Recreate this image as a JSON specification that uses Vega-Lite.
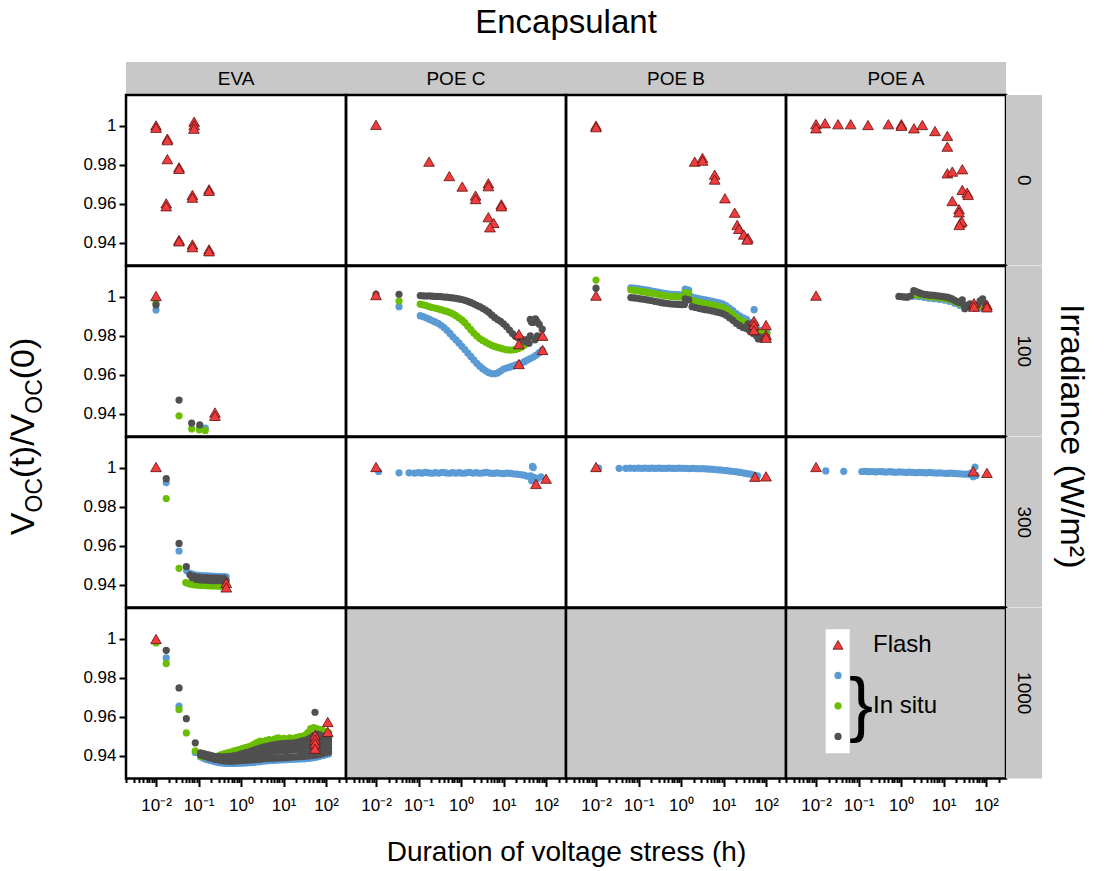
{
  "$schema": "https://vega.github.io/schema/vega-lite/v6.json",
  "background": "white",
  "autosize": {"type": "pad"},
  "padding": {"left": 5, "top": 6, "right": 5, "bottom": 5},
  "columns": 5,
  "spacing": 0,
  "bounds": "flush",
  "resolve": {"scale": {"x": "independent", "y": "independent", "color": "independent"}},
  "config": {
    "view": {"stroke": "black", "strokeWidth": 2.5},
    "font": "Liberation Sans",
    "text": {"font": "Liberation Sans", "color": "black"},
    "axis": {"domain": false, "grid": false, "tickColor": "black", "labelColor": "black", "labelFont": "Liberation Sans", "labelFontSize": 17, "titleFont": "Liberation Sans", "titleColor": "black", "titleFontWeight": "normal"}
  },
  "datasets": {
    "eva0": [
      {"s":"F","t":0.01,"v":1.0003},{"s":"F","t":0.01,"v":0.9991},{"s":"F","t":0.0185,"v":0.9935},{"s":"F","t":0.0185,"v":0.9927},{"s":"F","t":0.0185,"v":0.983},{"s":"F","t":0.0348,"v":0.9788},{"s":"F","t":0.0348,"v":0.978},{"s":"F","t":0.079,"v":1.0022},{"s":"F","t":0.079,"v":1.0004},{"s":"F","t":0.078,"v":0.9986},{"s":"F","t":0.177,"v":0.9675},{"s":"F","t":0.177,"v":0.9667},{"s":"F","t":0.072,"v":0.9646},{"s":"F","t":0.072,"v":0.9632},{"s":"F","t":0.0174,"v":0.9603},{"s":"F","t":0.0174,"v":0.9588},{"s":"F","t":0.0348,"v":0.9415},{"s":"F","t":0.0348,"v":0.9408},{"s":"F","t":0.072,"v":0.9392},{"s":"F","t":0.072,"v":0.9378},{"s":"F","t":0.177,"v":0.9367},{"s":"F","t":0.177,"v":0.9357}
    ],
    "pc0": [
      {"s":"F","t":0.01,"v":1.0006},{"s":"F","t":0.177,"v":0.9817},{"s":"F","t":0.53,"v":0.9743},{"s":"F","t":1.07,"v":0.9689},{"s":"F","t":2.2,"v":0.9643},{"s":"F","t":2.2,"v":0.9625},{"s":"F","t":4.4,"v":0.9706},{"s":"F","t":4.4,"v":0.9691},{"s":"F","t":8.9,"v":0.9598},{"s":"F","t":8.9,"v":0.9588},{"s":"F","t":4.4,"v":0.9532},{"s":"F","t":5.9,"v":0.9502},{"s":"F","t":4.8,"v":0.948}
    ],
    "pb0": [
      {"s":"F","t":0.01,"v":1.0002},{"s":"F","t":0.01,"v":0.9994},{"s":"F","t":2.1,"v":0.9817},{"s":"F","t":3.2,"v":0.9836},{"s":"F","t":3.2,"v":0.9822},{"s":"F","t":6.2,"v":0.975},{"s":"F","t":6.2,"v":0.9725},{"s":"F","t":10.8,"v":0.9629},{"s":"F","t":18.3,"v":0.9555},{"s":"F","t":21,"v":0.9492},{"s":"F","t":23,"v":0.9472},{"s":"F","t":30,"v":0.9443},{"s":"F","t":37.5,"v":0.9425},{"s":"F","t":36,"v":0.9417}
    ],
    "pa0": [
      {"s":"F","t":0.01,"v":1.0009},{"s":"F","t":0.01,"v":0.9988},{"s":"F","t":0.0163,"v":1.0014},{"s":"F","t":0.033,"v":1.0009},{"s":"F","t":0.0655,"v":1.0009},{"s":"F","t":0.1675,"v":1.0005},{"s":"F","t":0.504,"v":1.0009},{"s":"F","t":1.02,"v":1.0009},{"s":"F","t":1.02,"v":1.0001},{"s":"F","t":2.02,"v":0.9988},{"s":"F","t":3.17,"v":1.0005},{"s":"F","t":6.3,"v":0.9974},{"s":"F","t":12.3,"v":0.9949},{"s":"F","t":12.3,"v":0.9894},{"s":"F","t":12.3,"v":0.9757},{"s":"F","t":16.1,"v":0.9766},{"s":"F","t":27.7,"v":0.9778},{"s":"F","t":27.7,"v":0.9672},{"s":"F","t":36.1,"v":0.9658},{"s":"F","t":37.9,"v":0.9646},{"s":"F","t":16.1,"v":0.9615},{"s":"F","t":23.2,"v":0.9573},{"s":"F","t":23.2,"v":0.9557},{"s":"F","t":25,"v":0.9504},{"s":"F","t":27,"v":0.951},{"s":"F","t":23.5,"v":0.9492}
    ],
    "eva100": [
      {"s":"1","t":0.01,"v":0.9933},{"s":"1","t":0.144,"v":0.9327},{"s":"1","t":0.107,"v":0.9331},
      {"s":"2","t":0.01,"v":0.997},{"s":"2","t":0.0348,"v":0.939},{"s":"2","t":0.069,"v":0.9323},{"s":"2","t":0.104,"v":0.9318},{"s":"2","t":0.144,"v":0.9315},
      {"s":"3","t":0.01,"v":0.9959},{"s":"3","t":0.0348,"v":0.9471},{"s":"3","t":0.069,"v":0.9353},{"s":"3","t":0.107,"v":0.9344},
      {"s":"F","t":0.01,"v":1.0005},{"s":"F","t":0.244,"v":0.9407},{"s":"F","t":0.244,"v":0.939}
    ],
    "pc100": [
      {"s":"1","t":0.0348,"v":0.995},
      {"s":"1","t":0.11,"v":0.9904},{"s":"1","t":0.129,"v":0.9899},{"s":"1","t":0.151,"v":0.9893},{"s":"1","t":0.178,"v":0.9886},{"s":"1","t":0.209,"v":0.9879},{"s":"1","t":0.245,"v":0.9872},{"s":"1","t":0.288,"v":0.9865},{"s":"1","t":0.339,"v":0.9855},{"s":"1","t":0.398,"v":0.9843},{"s":"1","t":0.468,"v":0.9829},{"s":"1","t":0.55,"v":0.9813},{"s":"1","t":0.646,"v":0.9796},{"s":"1","t":0.759,"v":0.978},{"s":"1","t":0.891,"v":0.9764},{"s":"1","t":1.047,"v":0.9747},{"s":"1","t":1.23,"v":0.973},{"s":"1","t":1.445,"v":0.9712},{"s":"1","t":1.698,"v":0.9695},{"s":"1","t":1.995,"v":0.9677},{"s":"1","t":2.344,"v":0.966},{"s":"1","t":2.754,"v":0.9645},{"s":"1","t":3.236,"v":0.9632},{"s":"1","t":3.802,"v":0.9621},{"s":"1","t":4.467,"v":0.9612},{"s":"1","t":5.248,"v":0.9607},{"s":"1","t":6.166,"v":0.9606},{"s":"1","t":7.244,"v":0.961},{"s":"1","t":8.511,"v":0.962},{"s":"1","t":10,"v":0.963},{"s":"1","t":11.75,"v":0.9635},{"s":"1","t":13.8,"v":0.964},{"s":"1","t":16.22,"v":0.9645},{"s":"1","t":19.05,"v":0.965},{"s":"1","t":22.39,"v":0.9655},{"s":"1","t":26.3,"v":0.966},{"s":"1","t":30.9,"v":0.9668},{"s":"1","t":36.31,"v":0.9676},{"s":"1","t":42.66,"v":0.9684},{"s":"1","t":50.12,"v":0.9692},{"s":"1","t":58.88,"v":0.9702},{"s":"1","t":69.18,"v":0.9714},{"s":"1","t":81.28,"v":0.9728},
      {"s":"2","t":0.0348,"v":0.9979},
      {"s":"2","t":0.11,"v":0.9963},{"s":"2","t":0.129,"v":0.996},{"s":"2","t":0.151,"v":0.9956},{"s":"2","t":0.178,"v":0.9951},{"s":"2","t":0.209,"v":0.9946},{"s":"2","t":0.245,"v":0.9943},{"s":"2","t":0.288,"v":0.9939},{"s":"2","t":0.339,"v":0.9935},{"s":"2","t":0.398,"v":0.993},{"s":"2","t":0.468,"v":0.9926},{"s":"2","t":0.55,"v":0.992},{"s":"2","t":0.646,"v":0.9913},{"s":"2","t":0.759,"v":0.9904},{"s":"2","t":0.891,"v":0.9893},{"s":"2","t":1.047,"v":0.9882},{"s":"2","t":1.23,"v":0.9868},{"s":"2","t":1.445,"v":0.985},{"s":"2","t":1.698,"v":0.9832},{"s":"2","t":1.995,"v":0.9815},{"s":"2","t":2.344,"v":0.98},{"s":"2","t":2.754,"v":0.9787},{"s":"2","t":3.236,"v":0.9777},{"s":"2","t":3.802,"v":0.9768},{"s":"2","t":4.467,"v":0.976},{"s":"2","t":5.248,"v":0.9752},{"s":"2","t":6.166,"v":0.9746},{"s":"2","t":7.244,"v":0.9741},{"s":"2","t":8.511,"v":0.9737},{"s":"2","t":10,"v":0.9733},{"s":"2","t":11.75,"v":0.9729},{"s":"2","t":13.8,"v":0.9728},{"s":"2","t":16.22,"v":0.9728},{"s":"2","t":19.05,"v":0.9731},{"s":"2","t":22.39,"v":0.9736},{"s":"2","t":26.3,"v":0.9743},{"s":"2","t":30.9,"v":0.9753},{"s":"2","t":36.31,"v":0.9766},
      {"s":"3","t":0.01,"v":1.0014},{"s":"3","t":0.0348,"v":1.0014},
      {"s":"3","t":0.11,"v":1.0007},{"s":"3","t":0.129,"v":1.0006},{"s":"3","t":0.151,"v":1.0005},{"s":"3","t":0.178,"v":1.0006},{"s":"3","t":0.209,"v":1.0004},{"s":"3","t":0.245,"v":1.0003},{"s":"3","t":0.288,"v":1.0003},{"s":"3","t":0.339,"v":1.0002},{"s":"3","t":0.398,"v":1.0},{"s":"3","t":0.468,"v":0.9999},{"s":"3","t":0.55,"v":0.9997},{"s":"3","t":0.646,"v":0.9995},{"s":"3","t":0.759,"v":0.9993},{"s":"3","t":0.891,"v":0.999},{"s":"3","t":1.047,"v":0.9987},{"s":"3","t":1.23,"v":0.9983},{"s":"3","t":1.445,"v":0.9978},{"s":"3","t":1.698,"v":0.9972},{"s":"3","t":1.995,"v":0.9965},{"s":"3","t":2.344,"v":0.9957},{"s":"3","t":2.754,"v":0.995},{"s":"3","t":3.236,"v":0.9942},{"s":"3","t":3.802,"v":0.9933},{"s":"3","t":4.467,"v":0.9922},{"s":"3","t":5.248,"v":0.9908},{"s":"3","t":6.166,"v":0.9895},{"s":"3","t":7.244,"v":0.9884},{"s":"3","t":8.511,"v":0.9875},{"s":"3","t":10,"v":0.9862},{"s":"3","t":11.75,"v":0.9848},{"s":"3","t":13.8,"v":0.983},{"s":"3","t":16.22,"v":0.9812},{"s":"3","t":19.05,"v":0.9798},{"s":"3","t":22.39,"v":0.979},{"s":"3","t":26.3,"v":0.9785},{"s":"3","t":30.9,"v":0.9778},{"s":"3","t":36.31,"v":0.9782},{"s":"3","t":42.66,"v":0.98},{"s":"3","t":50.12,"v":0.987},{"s":"3","t":58.88,"v":0.988},{"s":"3","t":69.18,"v":0.986},{"s":"3","t":81.28,"v":0.9835},
      {"s":"3","t":33.1,"v":0.977},{"s":"3","t":39.8,"v":0.9762},{"s":"3","t":42.66,"v":0.9885},{"s":"3","t":45.7,"v":0.987},{"s":"3","t":55,"v":0.978},{"s":"3","t":56.2,"v":0.9888},{"s":"3","t":63.1,"v":0.98},{"s":"3","t":63.1,"v":0.987},{"s":"3","t":75.9,"v":0.9795},
      {"s":"F","t":0.01,"v":1.001},{"s":"F","t":23,"v":0.9809},{"s":"F","t":23,"v":0.9758},{"s":"F","t":23,"v":0.9656},{"s":"F","t":83,"v":0.9801},{"s":"F","t":83,"v":0.9728}
    ],
    "pb100": [
      {"s":"1","t":0.0661,"v":1.0047},{"s":"1","t":0.0794,"v":1.0045},{"s":"1","t":0.0955,"v":1.0043},{"s":"1","t":0.1148,"v":1.004},{"s":"1","t":0.138,"v":1.0038},{"s":"1","t":0.166,"v":1.0035},{"s":"1","t":0.1995,"v":1.0032},{"s":"1","t":0.2399,"v":1.0028},{"s":"1","t":0.2884,"v":1.0025},{"s":"1","t":0.3467,"v":1.0021},{"s":"1","t":0.4169,"v":1.0018},{"s":"1","t":0.5012,"v":1.0016},{"s":"1","t":0.6026,"v":1.0014},{"s":"1","t":0.7244,"v":1.0013},{"s":"1","t":0.871,"v":1.0012},{"s":"1","t":1.047,"v":1.0011},{"s":"1","t":1.259,"v":1.004},{"s":"1","t":1.514,"v":1.0035},{"s":"1","t":1.82,"v":1.0},{"s":"1","t":2.188,"v":0.9996},{"s":"1","t":2.63,"v":0.9992},{"s":"1","t":3.162,"v":0.9988},{"s":"1","t":3.802,"v":0.9985},{"s":"1","t":4.571,"v":0.9982},{"s":"1","t":5.495,"v":0.9978},{"s":"1","t":6.607,"v":0.9974},{"s":"1","t":7.943,"v":0.997},{"s":"1","t":9.55,"v":0.9965},{"s":"1","t":11.48,"v":0.9956},{"s":"1","t":13.8,"v":0.9943},{"s":"1","t":16.6,"v":0.993},{"s":"1","t":19.95,"v":0.9915},{"s":"1","t":23.99,"v":0.9903},{"s":"1","t":28.84,"v":0.9893},{"s":"1","t":34.67,"v":0.9885},{"s":"1","t":41.69,"v":0.9868},{"s":"1","t":50.12,"v":0.9852},{"s":"1","t":60.26,"v":0.9835},{"s":"1","t":72.44,"v":0.9828},{"s":"1","t":87.1,"v":0.9824},{"s":"1","t":104.7,"v":0.982},{"s":"1","t":52.5,"v":0.9935},
      {"s":"2","t":0.01,"v":1.0087},
      {"s":"2","t":0.0661,"v":1.0037},{"s":"2","t":0.0794,"v":1.0034},{"s":"2","t":0.0955,"v":1.0032},{"s":"2","t":0.1148,"v":1.0029},{"s":"2","t":0.138,"v":1.0026},{"s":"2","t":0.166,"v":1.0023},{"s":"2","t":0.1995,"v":1.002},{"s":"2","t":0.2399,"v":1.0017},{"s":"2","t":0.2884,"v":1.0014},{"s":"2","t":0.3467,"v":1.001},{"s":"2","t":0.4169,"v":1.0007},{"s":"2","t":0.5012,"v":1.0005},{"s":"2","t":0.6026,"v":1.0003},{"s":"2","t":0.7244,"v":1.0002},{"s":"2","t":0.871,"v":1.0001},{"s":"2","t":1.047,"v":1.0},{"s":"2","t":1.259,"v":1.0022},{"s":"2","t":1.514,"v":1.0018},{"s":"2","t":1.82,"v":0.9982},{"s":"2","t":2.188,"v":0.9977},{"s":"2","t":2.63,"v":0.9973},{"s":"2","t":3.162,"v":0.9969},{"s":"2","t":3.802,"v":0.9966},{"s":"2","t":4.571,"v":0.9963},{"s":"2","t":5.495,"v":0.9959},{"s":"2","t":6.607,"v":0.9955},{"s":"2","t":7.943,"v":0.9951},{"s":"2","t":9.55,"v":0.9946},{"s":"2","t":11.48,"v":0.9937},{"s":"2","t":13.8,"v":0.9924},{"s":"2","t":16.6,"v":0.991},{"s":"2","t":19.95,"v":0.9895},{"s":"2","t":23.99,"v":0.9883},{"s":"2","t":28.84,"v":0.9873},{"s":"2","t":34.67,"v":0.9866},{"s":"2","t":41.69,"v":0.9852},{"s":"2","t":50.12,"v":0.9838},{"s":"2","t":60.26,"v":0.9825},{"s":"2","t":72.44,"v":0.9818},{"s":"2","t":87.1,"v":0.9814},{"s":"2","t":104.7,"v":0.981},
      {"s":"3","t":0.01,"v":1.0045},
      {"s":"3","t":0.0661,"v":0.9997},{"s":"3","t":0.0794,"v":0.9995},{"s":"3","t":0.0955,"v":0.9993},{"s":"3","t":0.1148,"v":0.999},{"s":"3","t":0.138,"v":0.9988},{"s":"3","t":0.166,"v":0.9985},{"s":"3","t":0.1995,"v":0.9982},{"s":"3","t":0.2399,"v":0.9978},{"s":"3","t":0.2884,"v":0.9975},{"s":"3","t":0.3467,"v":0.9971},{"s":"3","t":0.4169,"v":0.9968},{"s":"3","t":0.5012,"v":0.9966},{"s":"3","t":0.6026,"v":0.9964},{"s":"3","t":0.7244,"v":0.9963},{"s":"3","t":0.871,"v":0.9962},{"s":"3","t":1.047,"v":0.9961},{"s":"3","t":1.259,"v":0.999},{"s":"3","t":1.514,"v":0.9985},{"s":"3","t":1.82,"v":0.995},{"s":"3","t":2.188,"v":0.9946},{"s":"3","t":2.63,"v":0.9942},{"s":"3","t":3.162,"v":0.9938},{"s":"3","t":3.802,"v":0.9935},{"s":"3","t":4.571,"v":0.9932},{"s":"3","t":5.495,"v":0.9928},{"s":"3","t":6.607,"v":0.9924},{"s":"3","t":7.943,"v":0.992},{"s":"3","t":9.55,"v":0.9915},{"s":"3","t":11.48,"v":0.9906},{"s":"3","t":13.8,"v":0.9893},{"s":"3","t":16.6,"v":0.988},{"s":"3","t":19.95,"v":0.9865},{"s":"3","t":23.99,"v":0.9853},{"s":"3","t":28.84,"v":0.9843},{"s":"3","t":34.67,"v":0.9838},{"s":"3","t":41.69,"v":0.9825},{"s":"3","t":50.12,"v":0.9812},{"s":"3","t":60.26,"v":0.98},{"s":"3","t":72.44,"v":0.9795},{"s":"3","t":87.1,"v":0.9793},{"s":"3","t":104.7,"v":0.979},
      {"s":"3","t":1.2,"v":0.9962},{"s":"3","t":38,"v":0.9862},{"s":"3","t":45.7,"v":0.9848},{"s":"3","t":55,"v":0.983},{"s":"3","t":66,"v":0.9785},{"s":"3","t":79.4,"v":0.9783},
      {"s":"F","t":0.01,"v":1.0007},{"s":"F","t":52,"v":0.9877},{"s":"F","t":52,"v":0.9856},{"s":"F","t":52,"v":0.983},{"s":"F","t":100,"v":0.9856},{"s":"F","t":100,"v":0.9805},{"s":"F","t":100,"v":0.9791}
    ],
    "pa100": [
      {"s":"1","t":1.995,"v":1.0004},{"s":"1","t":2.63,"v":1.0002},{"s":"1","t":3.467,"v":0.9998},{"s":"1","t":4.571,"v":0.9994},{"s":"1","t":6.026,"v":0.9991},{"s":"1","t":7.943,"v":0.9988},{"s":"1","t":10.47,"v":0.9984},{"s":"1","t":13.8,"v":0.9978},{"s":"1","t":18.2,"v":0.9968},{"s":"1","t":23.99,"v":0.9957},{"s":"1","t":31.62,"v":0.995},{"s":"1","t":41.69,"v":0.9947},{"s":"1","t":54.95,"v":0.9944},{"s":"1","t":72.44,"v":0.9944},{"s":"1","t":95.5,"v":0.9942},
      {"s":"2","t":1.995,"v":1.0012},{"s":"2","t":2.63,"v":1.001},{"s":"2","t":3.467,"v":1.0006},{"s":"2","t":4.571,"v":1.0002},{"s":"2","t":6.026,"v":0.9999},{"s":"2","t":7.943,"v":0.9996},{"s":"2","t":10.47,"v":0.9992},{"s":"2","t":13.8,"v":0.9986},{"s":"2","t":18.2,"v":0.9976},{"s":"2","t":23.99,"v":0.9965},{"s":"2","t":31.62,"v":0.9958},{"s":"2","t":41.69,"v":0.9955},{"s":"2","t":54.95,"v":0.9952},{"s":"2","t":72.44,"v":0.9952},{"s":"2","t":95.5,"v":0.995},
      {"s":"3","t":0.891,"v":1.0003},{"s":"3","t":1,"v":1.0002},{"s":"3","t":1.122,"v":1.0001},{"s":"3","t":1.259,"v":1.0},{"s":"3","t":1.413,"v":0.9999},{"s":"3","t":1.66,"v":1.0005},{"s":"3","t":1.995,"v":1.0033},{"s":"3","t":2.291,"v":1.0028},{"s":"3","t":2.63,"v":1.0022},{"s":"3","t":3.02,"v":1.0017},{"s":"3","t":3.467,"v":1.0014},{"s":"3","t":3.981,"v":1.0012},{"s":"3","t":4.571,"v":1.001},{"s":"3","t":5.248,"v":1.0009},{"s":"3","t":6.026,"v":1.0008},{"s":"3","t":6.918,"v":1.0006},{"s":"3","t":7.943,"v":1.0005},{"s":"3","t":9.12,"v":1.0003},{"s":"3","t":10.47,"v":1.0001},{"s":"3","t":12.02,"v":0.9999},{"s":"3","t":13.8,"v":0.9995},{"s":"3","t":15.85,"v":0.999},{"s":"3","t":18.2,"v":0.9983},{"s":"3","t":20.89,"v":0.9976},{"s":"3","t":23.99,"v":0.9972},{"s":"3","t":27.54,"v":0.9985},{"s":"3","t":30.2,"v":0.996},{"s":"3","t":31.62,"v":0.994},{"s":"3","t":36.31,"v":0.995},{"s":"3","t":41.69,"v":0.9965},{"s":"3","t":47.86,"v":0.9955},{"s":"3","t":54.95,"v":0.9945},{"s":"3","t":63.1,"v":0.996},{"s":"3","t":72.44,"v":0.998},{"s":"3","t":83.18,"v":0.999},{"s":"3","t":95.5,"v":0.9965},{"s":"3","t":107.2,"v":0.9945},
      {"s":"F","t":0.01,"v":1.0007},{"s":"F","t":52,"v":0.9968},{"s":"F","t":52,"v":0.995},{"s":"F","t":105,"v":0.9959},{"s":"F","t":105,"v":0.9947}
    ],
    "eva300": [
      {"s":"1","t":0.0174,"v":0.9925},{"s":"1","t":0.0348,"v":0.9574},{"s":"1","t":0.0527,"v":0.9472},
      {"s":"1","t":0.0631,"v":0.9458},{"s":"1","t":0.0708,"v":0.9455},{"s":"1","t":0.0794,"v":0.9452},{"s":"1","t":0.0891,"v":0.945},{"s":"1","t":0.1,"v":0.9449},{"s":"1","t":0.1122,"v":0.9448},{"s":"1","t":0.1259,"v":0.9447},{"s":"1","t":0.1413,"v":0.9446},{"s":"1","t":0.1585,"v":0.9446},{"s":"1","t":0.1778,"v":0.9445},{"s":"1","t":0.1995,"v":0.9445},{"s":"1","t":0.2239,"v":0.9444},{"s":"1","t":0.2512,"v":0.9444},{"s":"1","t":0.2818,"v":0.9443},{"s":"1","t":0.3162,"v":0.9443},{"s":"1","t":0.3548,"v":0.9442},{"s":"1","t":0.3981,"v":0.9442},{"s":"1","t":0.4467,"v":0.9441},
      {"s":"2","t":0.0174,"v":0.9843},{"s":"2","t":0.0348,"v":0.9485},
      {"s":"2","t":0.0501,"v":0.9412},{"s":"2","t":0.0562,"v":0.9408},{"s":"2","t":0.0631,"v":0.9405},{"s":"2","t":0.0708,"v":0.9403},{"s":"2","t":0.0794,"v":0.9401},{"s":"2","t":0.0891,"v":0.94},{"s":"2","t":0.1,"v":0.9399},{"s":"2","t":0.1122,"v":0.9398},{"s":"2","t":0.1259,"v":0.9397},{"s":"2","t":0.1413,"v":0.9397},{"s":"2","t":0.1585,"v":0.9396},{"s":"2","t":0.1778,"v":0.9396},{"s":"2","t":0.1995,"v":0.9395},{"s":"2","t":0.2239,"v":0.9395},{"s":"2","t":0.2512,"v":0.9395},{"s":"2","t":0.2818,"v":0.9394},{"s":"2","t":0.3162,"v":0.9394},{"s":"2","t":0.3548,"v":0.9394},{"s":"2","t":0.3981,"v":0.9394},
      {"s":"3","t":0.0174,"v":0.9945},{"s":"3","t":0.0348,"v":0.9613},{"s":"3","t":0.0517,"v":0.9494},
      {"s":"3","t":0.0631,"v":0.9452},{"s":"3","t":0.0708,"v":0.9438},{"s":"3","t":0.0794,"v":0.9444},{"s":"3","t":0.0891,"v":0.9428},{"s":"3","t":0.1,"v":0.944},{"s":"3","t":0.1122,"v":0.9425},{"s":"3","t":0.1259,"v":0.9438},{"s":"3","t":0.1413,"v":0.9424},{"s":"3","t":0.1585,"v":0.9437},{"s":"3","t":0.1778,"v":0.9423},{"s":"3","t":0.1995,"v":0.9436},{"s":"3","t":0.2239,"v":0.9422},{"s":"3","t":0.2512,"v":0.9436},{"s":"3","t":0.2818,"v":0.9422},{"s":"3","t":0.3162,"v":0.9435},{"s":"3","t":0.3548,"v":0.9421},{"s":"3","t":0.3981,"v":0.9435},{"s":"3","t":0.4467,"v":0.9421},
      {"s":"F","t":0.01,"v":1.0005},{"s":"F","t":0.45,"v":0.941},{"s":"F","t":0.45,"v":0.9387}
    ],
    "pc300": [
      {"s":"1","t":0.0115,"v":0.9982},{"s":"1","t":0.0348,"v":0.9975},{"s":"1","t":0.06,"v":0.9975},{"s":"1","t":0.08,"v":0.9974},
      {"s":"1","t":0.1,"v":0.9976},{"s":"1","t":0.1202,"v":0.9974},{"s":"1","t":0.1445,"v":0.9977},{"s":"1","t":0.1738,"v":0.9975},{"s":"1","t":0.2089,"v":0.9973},{"s":"1","t":0.2512,"v":0.9976},{"s":"1","t":0.302,"v":0.9974},{"s":"1","t":0.3631,"v":0.9977},{"s":"1","t":0.4365,"v":0.9975},{"s":"1","t":0.5248,"v":0.9973},{"s":"1","t":0.631,"v":0.9976},{"s":"1","t":0.7586,"v":0.9974},{"s":"1","t":0.912,"v":0.9976},{"s":"1","t":1.096,"v":0.9973},{"s":"1","t":1.318,"v":0.9975},{"s":"1","t":1.585,"v":0.9977},{"s":"1","t":1.905,"v":0.9974},{"s":"1","t":2.291,"v":0.9976},{"s":"1","t":2.754,"v":0.9973},{"s":"1","t":3.311,"v":0.9975},{"s":"1","t":3.981,"v":0.9977},{"s":"1","t":4.786,"v":0.9974},{"s":"1","t":5.754,"v":0.9972},{"s":"1","t":6.918,"v":0.9975},{"s":"1","t":8.318,"v":0.9973},{"s":"1","t":10,"v":0.9971},{"s":"1","t":12.02,"v":0.9974},{"s":"1","t":14.45,"v":0.9972},{"s":"1","t":17.38,"v":0.997},{"s":"1","t":20.89,"v":0.9968},{"s":"1","t":25.12,"v":0.9966},{"s":"1","t":30.2,"v":0.9963},{"s":"1","t":36.31,"v":0.9958},{"s":"1","t":43.65,"v":0.996},{"s":"1","t":52.48,"v":0.9952},{"s":"1","t":63.1,"v":0.9945},{"s":"1","t":75.86,"v":0.9955},
      {"s":"1","t":48,"v":1.0008},{"s":"1","t":50,"v":1.0002},{"s":"1","t":52,"v":0.9938},{"s":"1","t":46,"v":0.9935},
      {"s":"F","t":0.01,"v":1.0005},{"s":"F","t":58,"v":0.9918},{"s":"F","t":100,"v":0.9945}
    ],
    "pb300": [
      {"s":"1","t":0.0115,"v":0.9999},{"s":"1","t":0.035,"v":0.9998},{"s":"1","t":0.05,"v":0.9998},{"s":"1","t":0.063,"v":0.9999},{"s":"1","t":0.08,"v":0.9998},
      {"s":"1","t":0.1,"v":0.9999},{"s":"1","t":0.1202,"v":0.9998},{"s":"1","t":0.1445,"v":0.9999},{"s":"1","t":0.1738,"v":0.9998},{"s":"1","t":0.2089,"v":0.9999},{"s":"1","t":0.2512,"v":0.9998},{"s":"1","t":0.302,"v":0.9999},{"s":"1","t":0.3631,"v":0.9998},{"s":"1","t":0.4365,"v":0.9998},{"s":"1","t":0.5248,"v":0.9999},{"s":"1","t":0.631,"v":0.9998},{"s":"1","t":0.7586,"v":0.9998},{"s":"1","t":0.912,"v":0.9999},{"s":"1","t":1.096,"v":0.9998},{"s":"1","t":1.318,"v":0.9998},{"s":"1","t":1.585,"v":0.9997},{"s":"1","t":1.905,"v":0.9998},{"s":"1","t":2.291,"v":0.9997},{"s":"1","t":2.754,"v":0.9996},{"s":"1","t":3.311,"v":0.9997},{"s":"1","t":3.981,"v":0.9995},{"s":"1","t":4.786,"v":0.9994},{"s":"1","t":5.754,"v":0.9993},{"s":"1","t":6.918,"v":0.9991},{"s":"1","t":8.318,"v":0.999},{"s":"1","t":10,"v":0.9988},{"s":"1","t":12.02,"v":0.9986},{"s":"1","t":14.45,"v":0.9984},{"s":"1","t":17.38,"v":0.9982},{"s":"1","t":20.89,"v":0.998},{"s":"1","t":25.12,"v":0.9977},{"s":"1","t":30.2,"v":0.9974},{"s":"1","t":36.31,"v":0.9971},{"s":"1","t":43.65,"v":0.9968},{"s":"1","t":52.48,"v":0.9964},{"s":"1","t":63.1,"v":0.996},
      {"s":"F","t":0.01,"v":1.0005},{"s":"F","t":55,"v":0.9955},{"s":"F","t":100,"v":0.9957}
    ],
    "pa300": [
      {"s":"1","t":0.017,"v":0.9985},{"s":"1","t":0.045,"v":0.9983},
      {"s":"1","t":0.1202,"v":0.9982},{"s":"1","t":0.1445,"v":0.9983},{"s":"1","t":0.1738,"v":0.9981},{"s":"1","t":0.2089,"v":0.9982},{"s":"1","t":0.2512,"v":0.998},{"s":"1","t":0.302,"v":0.9982},{"s":"1","t":0.3631,"v":0.9981},{"s":"1","t":0.4365,"v":0.9979},{"s":"1","t":0.5248,"v":0.9981},{"s":"1","t":0.631,"v":0.998},{"s":"1","t":0.7586,"v":0.9978},{"s":"1","t":0.912,"v":0.998},{"s":"1","t":1.096,"v":0.9979},{"s":"1","t":1.318,"v":0.9977},{"s":"1","t":1.585,"v":0.9979},{"s":"1","t":1.905,"v":0.9977},{"s":"1","t":2.291,"v":0.9976},{"s":"1","t":2.754,"v":0.9978},{"s":"1","t":3.311,"v":0.9976},{"s":"1","t":3.981,"v":0.9975},{"s":"1","t":4.786,"v":0.9977},{"s":"1","t":5.754,"v":0.9975},{"s":"1","t":6.918,"v":0.9974},{"s":"1","t":8.318,"v":0.9975},{"s":"1","t":10,"v":0.9973},{"s":"1","t":12.02,"v":0.9972},{"s":"1","t":14.45,"v":0.9974},{"s":"1","t":17.38,"v":0.9972},{"s":"1","t":20.89,"v":0.9971},{"s":"1","t":25.12,"v":0.997},{"s":"1","t":30.2,"v":0.9969},{"s":"1","t":36.31,"v":0.9968},{"s":"1","t":43.65,"v":0.9967},{"s":"1","t":52.48,"v":0.9966},
      {"s":"1","t":55,"v":1.0005},{"s":"1","t":50,"v":0.9955},{"s":"1","t":58,"v":0.9962},{"s":"1","t":45,"v":0.9975},
      {"s":"F","t":0.01,"v":1.0005},{"s":"F","t":50,"v":0.9983},{"s":"F","t":105,"v":0.9975}
    ],
    "eva1000": [
      {"s":"1","t":0.01,"v":0.9985},{"s":"1","t":0.0174,"v":0.9903},{"s":"1","t":0.0348,"v":0.9655},{"s":"1","t":0.084,"v":0.9418},
      {"s":"1","t":0.1122,"v":0.9395},{"s":"1","t":0.1318,"v":0.9388},{"s":"1","t":0.1549,"v":0.9382},{"s":"1","t":0.182,"v":0.9377},{"s":"1","t":0.2138,"v":0.9373},{"s":"1","t":0.2512,"v":0.9369},{"s":"1","t":0.2951,"v":0.9366},{"s":"1","t":0.3467,"v":0.9364},{"s":"1","t":0.4074,"v":0.9362},{"s":"1","t":0.4786,"v":0.9361},{"s":"1","t":0.5623,"v":0.9361},{"s":"1","t":0.6607,"v":0.9361},{"s":"1","t":0.7762,"v":0.9362},{"s":"1","t":0.912,"v":0.9362},{"s":"1","t":1.072,"v":0.9363},{"s":"1","t":1.259,"v":0.9364},{"s":"1","t":1.479,"v":0.9365},{"s":"1","t":1.738,"v":0.9366},{"s":"1","t":2.042,"v":0.9367},{"s":"1","t":2.399,"v":0.9369},{"s":"1","t":2.818,"v":0.9371},{"s":"1","t":3.311,"v":0.9373},{"s":"1","t":3.89,"v":0.9374},{"s":"1","t":4.571,"v":0.9375},{"s":"1","t":5.37,"v":0.9376},{"s":"1","t":6.31,"v":0.9377},{"s":"1","t":7.413,"v":0.9378},{"s":"1","t":8.71,"v":0.9379},{"s":"1","t":10.23,"v":0.938},{"s":"1","t":12.02,"v":0.9381},{"s":"1","t":14.13,"v":0.9382},{"s":"1","t":16.6,"v":0.9383},{"s":"1","t":19.5,"v":0.9383},{"s":"1","t":22.91,"v":0.9384},{"s":"1","t":26.92,"v":0.9385},{"s":"1","t":31.62,"v":0.9385},{"s":"1","t":37.15,"v":0.9387},{"s":"1","t":43.65,"v":0.9389},{"s":"1","t":51.29,"v":0.9391},{"s":"1","t":60.26,"v":0.9394},{"s":"1","t":70.79,"v":0.9398},{"s":"1","t":83.18,"v":0.9402},{"s":"1","t":97.72,"v":0.9406},{"s":"1","t":114.8,"v":0.941},
      {"s":"2","t":0.01,"v":0.998},{"s":"2","t":0.0174,"v":0.9874},{"s":"2","t":0.0348,"v":0.9638},{"s":"2","t":0.0517,"v":0.9518},{"s":"2","t":0.084,"v":0.9426},
      {"s":"2","t":0.1122,"v":0.9398},{"s":"2","t":0.1318,"v":0.9396},{"s":"2","t":0.1549,"v":0.9395},{"s":"2","t":0.182,"v":0.9394},{"s":"2","t":0.2138,"v":0.9394},{"s":"2","t":0.2512,"v":0.9396},{"s":"2","t":0.2951,"v":0.94},{"s":"2","t":0.3467,"v":0.9406},{"s":"2","t":0.4074,"v":0.9412},{"s":"2","t":0.4786,"v":0.9416},{"s":"2","t":0.5623,"v":0.942},{"s":"2","t":0.6607,"v":0.9424},{"s":"2","t":0.7762,"v":0.9428},{"s":"2","t":0.912,"v":0.9432},{"s":"2","t":1.072,"v":0.9437},{"s":"2","t":1.259,"v":0.9443},{"s":"2","t":1.479,"v":0.9447},{"s":"2","t":1.738,"v":0.9452},{"s":"2","t":2.042,"v":0.946},{"s":"2","t":2.399,"v":0.947},{"s":"2","t":2.818,"v":0.9476},{"s":"2","t":3.311,"v":0.9472},{"s":"2","t":3.89,"v":0.9478},{"s":"2","t":4.571,"v":0.9484},{"s":"2","t":5.37,"v":0.948},{"s":"2","t":6.31,"v":0.9488},{"s":"2","t":7.413,"v":0.9492},{"s":"2","t":8.71,"v":0.9486},{"s":"2","t":10.23,"v":0.949},{"s":"2","t":12.02,"v":0.9486},{"s":"2","t":14.13,"v":0.9492},{"s":"2","t":16.6,"v":0.9488},{"s":"2","t":19.5,"v":0.9494},{"s":"2","t":22.91,"v":0.9498},{"s":"2","t":26.92,"v":0.95},{"s":"2","t":31.62,"v":0.9506},{"s":"2","t":37.15,"v":0.952},{"s":"2","t":43.65,"v":0.954},{"s":"2","t":51.29,"v":0.9545},{"s":"2","t":60.26,"v":0.954},{"s":"2","t":70.79,"v":0.9535},{"s":"2","t":83.18,"v":0.953},{"s":"2","t":97.72,"v":0.9525},{"s":"2","t":114.8,"v":0.952},
      {"s":"3","t":0.0174,"v":0.9942},{"s":"3","t":0.0348,"v":0.9749},{"s":"3","t":0.0517,"v":0.9591},{"s":"3","t":0.084,"v":0.9467},{"s":"3","t":55,"v":0.9624},
      {"s":"3","t":0.1122,"v":0.9405},{"s":"3","t":0.1318,"v":0.94},{"s":"3","t":0.1549,"v":0.9395},{"s":"3","t":0.182,"v":0.939},{"s":"3","t":0.2138,"v":0.9386},{"s":"3","t":0.2512,"v":0.9382},{"s":"3","t":0.2951,"v":0.9379},{"s":"3","t":0.3467,"v":0.9376},{"s":"3","t":0.4074,"v":0.9374},{"s":"3","t":0.4786,"v":0.9373},{"s":"3","t":0.5623,"v":0.9372},{"s":"3","t":0.6607,"v":0.9373},{"s":"3","t":0.7762,"v":0.9374},{"s":"3","t":0.912,"v":0.9375},{"s":"3","t":1.072,"v":0.9376},{"s":"3","t":1.259,"v":0.9377},{"s":"3","t":1.479,"v":0.9378},{"s":"3","t":1.738,"v":0.9379},{"s":"3","t":2.042,"v":0.938},{"s":"3","t":2.399,"v":0.9382},{"s":"3","t":2.818,"v":0.9383},{"s":"3","t":3.311,"v":0.9385},{"s":"3","t":3.89,"v":0.9386},{"s":"3","t":4.571,"v":0.9387},{"s":"3","t":5.37,"v":0.9388},{"s":"3","t":6.31,"v":0.9389},{"s":"3","t":7.413,"v":0.939},{"s":"3","t":8.71,"v":0.939},{"s":"3","t":10.23,"v":0.9391},{"s":"3","t":12.02,"v":0.9392},{"s":"3","t":14.13,"v":0.9393},{"s":"3","t":16.6,"v":0.9394},{"s":"3","t":19.5,"v":0.9395},{"s":"3","t":22.91,"v":0.9396},{"s":"3","t":26.92,"v":0.9397},{"s":"3","t":31.62,"v":0.9398},{"s":"3","t":37.15,"v":0.94},{"s":"3","t":43.65,"v":0.9401},{"s":"3","t":51.29,"v":0.9403},{"s":"3","t":60.26,"v":0.9405},{"s":"3","t":70.79,"v":0.9408},{"s":"3","t":83.18,"v":0.9412},{"s":"3","t":97.72,"v":0.9416},{"s":"3","t":114.8,"v":0.942},
      {"s":"3","t":0.1122,"v":0.9415},{"s":"3","t":0.1318,"v":0.9412},{"s":"3","t":0.1549,"v":0.9408},{"s":"3","t":0.182,"v":0.9404},{"s":"3","t":0.2138,"v":0.94},{"s":"3","t":0.2512,"v":0.9397},{"s":"3","t":0.2951,"v":0.9396},{"s":"3","t":0.3467,"v":0.9395},{"s":"3","t":0.4074,"v":0.9395},{"s":"3","t":0.4786,"v":0.9396},{"s":"3","t":0.5623,"v":0.9398},{"s":"3","t":0.6607,"v":0.94},{"s":"3","t":0.7762,"v":0.9402},{"s":"3","t":0.912,"v":0.9406},{"s":"3","t":1.072,"v":0.9412},{"s":"3","t":1.259,"v":0.9416},{"s":"3","t":1.479,"v":0.942},{"s":"3","t":1.738,"v":0.9425},{"s":"3","t":2.042,"v":0.943},{"s":"3","t":2.399,"v":0.9435},{"s":"3","t":2.818,"v":0.944},{"s":"3","t":3.311,"v":0.9445},{"s":"3","t":3.89,"v":0.9448},{"s":"3","t":4.571,"v":0.9452},{"s":"3","t":5.37,"v":0.9455},{"s":"3","t":6.31,"v":0.9458},{"s":"3","t":7.413,"v":0.946},{"s":"3","t":8.71,"v":0.9462},{"s":"3","t":10.23,"v":0.9463},{"s":"3","t":12.02,"v":0.9464},{"s":"3","t":14.13,"v":0.9465},{"s":"3","t":16.6,"v":0.9466},{"s":"3","t":19.5,"v":0.9468},{"s":"3","t":22.91,"v":0.9472},{"s":"3","t":26.92,"v":0.9476},{"s":"3","t":31.62,"v":0.948},{"s":"3","t":37.15,"v":0.9485},{"s":"3","t":43.65,"v":0.9492},{"s":"3","t":51.29,"v":0.9505},{"s":"3","t":60.26,"v":0.9512},{"s":"3","t":70.79,"v":0.9508},{"s":"3","t":83.18,"v":0.9502},{"s":"3","t":97.72,"v":0.9497},{"s":"3","t":114.8,"v":0.9492},
      {"s":"3","t":1.072,"v":0.9394},{"s":"3","t":1.259,"v":0.9397},{"s":"3","t":1.479,"v":0.9399},{"s":"3","t":1.738,"v":0.9402},{"s":"3","t":2.042,"v":0.9405},{"s":"3","t":2.399,"v":0.9408},
      {"s":"3","t":2.818,"v":0.9412},{"s":"3","t":3.311,"v":0.9415},{"s":"3","t":3.89,"v":0.9417},{"s":"3","t":4.571,"v":0.942},{"s":"3","t":5.37,"v":0.9422},{"s":"3","t":6.31,"v":0.9424},{"s":"3","t":7.413,"v":0.9425},{"s":"3","t":8.71,"v":0.9426},{"s":"3","t":10.23,"v":0.9427},{"s":"3","t":12.02,"v":0.9428},{"s":"3","t":14.13,"v":0.9429},{"s":"3","t":16.6,"v":0.943},{"s":"3","t":19.5,"v":0.9432},{"s":"3","t":22.91,"v":0.9434},{"s":"3","t":26.92,"v":0.9437},{"s":"3","t":31.62,"v":0.9439},{"s":"3","t":37.15,"v":0.9443},{"s":"3","t":43.65,"v":0.9447},{"s":"3","t":51.29,"v":0.9454},{"s":"3","t":60.26,"v":0.9459},{"s":"3","t":70.79,"v":0.9458},{"s":"3","t":83.18,"v":0.9457},{"s":"3","t":97.72,"v":0.9457},{"s":"3","t":114.8,"v":0.9456},
      {"s":"3","t":2.818,"v":0.9426},{"s":"3","t":3.311,"v":0.943},{"s":"3","t":3.89,"v":0.9433},{"s":"3","t":4.571,"v":0.9436},{"s":"3","t":5.37,"v":0.9439},{"s":"3","t":6.31,"v":0.9441},{"s":"3","t":7.413,"v":0.9443},{"s":"3","t":8.71,"v":0.9444},{"s":"3","t":10.23,"v":0.9445},{"s":"3","t":12.02,"v":0.9446},{"s":"3","t":14.13,"v":0.9447},{"s":"3","t":16.6,"v":0.9448},{"s":"3","t":19.5,"v":0.945},{"s":"3","t":22.91,"v":0.9453},
      {"s":"3","t":26.92,"v":0.9456},{"s":"3","t":31.62,"v":0.946},{"s":"3","t":37.15,"v":0.9464},{"s":"3","t":43.65,"v":0.947},{"s":"3","t":51.29,"v":0.9479},{"s":"3","t":60.26,"v":0.9485},{"s":"3","t":70.79,"v":0.9483},{"s":"3","t":83.18,"v":0.9479},{"s":"3","t":97.72,"v":0.9477},{"s":"3","t":114.8,"v":0.9474},
      {"s":"3","t":26.92,"v":0.9414},{"s":"3","t":31.62,"v":0.9417},{"s":"3","t":37.15,"v":0.942},{"s":"3","t":43.65,"v":0.9423},{"s":"3","t":51.29,"v":0.9429},{"s":"3","t":60.26,"v":0.9432},{"s":"3","t":70.79,"v":0.9433},{"s":"3","t":83.18,"v":0.9435},{"s":"3","t":97.72,"v":0.9436},{"s":"3","t":114.8,"v":0.9438},
      {"s":"F","t":0.01,"v":1.0},{"s":"F","t":55,"v":0.9506},{"s":"F","t":55,"v":0.9484},{"s":"F","t":55,"v":0.9463},{"s":"F","t":55,"v":0.9437},{"s":"F","t":110,"v":0.9574},{"s":"F","t":110,"v":0.9523}
    ]
  },
  "concat": [
    {"width": 220, "height": 33, "view": {"fill": "#c8c8c8"}, "data": {"values": [{"n": "EVA"}]}, "mark": {"type": "text", "fontSize": 19}, "encoding": {"text": {"field": "n"}}},
    {"width": 220, "height": 33, "view": {"fill": "#c8c8c8"},
     "layer": [
       {"data": {"values": [{"n": "POE C"}]}, "mark": {"type": "text", "fontSize": 19}, "encoding": {"text": {"field": "n"}}},
       {"data": {"values": [{}]}, "mark": {"type": "text", "text": "Encapsulant", "fontSize": 33, "baseline": "middle", "dx": 110, "dy": -56}}
     ]},
    {"width": 220, "height": 33, "view": {"fill": "#c8c8c8"}, "data": {"values": [{"n": "POE B"}]}, "mark": {"type": "text", "fontSize": 19}, "encoding": {"text": {"field": "n"}}},
    {"width": 220, "height": 33, "view": {"fill": "#c8c8c8"}, "data": {"values": [{"n": "POE A"}]}, "mark": {"type": "text", "fontSize": 19}, "encoding": {"text": {"field": "n"}}},
    {"width": 36, "height": 33, "view": {"stroke": null}, "data": {"values": [{}]}, "mark": {"type": "text", "text": ""}},

    {"width": 220, "height": 170.5, "data": {"name": "eva0"},
     "layer": [
       {"transform": [{"filter": "datum.s == 'F'"}],
        "mark": {"type": "point", "shape": "triangle-up", "filled": true, "opacity": 1, "size": 115, "fill": "#f03c3c", "stroke": "#5e1010", "strokeWidth": 0.8, "clip": true},
        "encoding": {
          "x": {"field": "t", "type": "quantitative", "scale": {"type": "log", "domain": [0.001968, 295.1], "nice": false}, "axis": null},
          "y": {"field": "v", "type": "quantitative", "scale": {"domain": [0.9284, 1.0159], "nice": false, "zero": false}, "axis": {"values": [0.94, 0.96, 0.98, 1], "format": ".2~f", "tickSize": 7, "tickWidth": 2, "labelPadding": 3, "title": null}}}}
     ]},
    {"width": 220, "height": 170.5, "data": {"name": "pc0"},
     "layer": [
       {"transform": [{"filter": "datum.s == 'F'"}],
        "mark": {"type": "point", "shape": "triangle-up", "filled": true, "opacity": 1, "size": 115, "fill": "#f03c3c", "stroke": "#5e1010", "strokeWidth": 0.8, "clip": true},
        "encoding": {
          "x": {"field": "t", "type": "quantitative", "scale": {"type": "log", "domain": [0.001968, 295.1], "nice": false}, "axis": null},
          "y": {"field": "v", "type": "quantitative", "scale": {"domain": [0.9284, 1.0159], "nice": false, "zero": false}, "axis": null}}}
     ]},
    {"width": 220, "height": 170.5, "data": {"name": "pb0"},
     "layer": [
       {"transform": [{"filter": "datum.s == 'F'"}],
        "mark": {"type": "point", "shape": "triangle-up", "filled": true, "opacity": 1, "size": 115, "fill": "#f03c3c", "stroke": "#5e1010", "strokeWidth": 0.8, "clip": true},
        "encoding": {
          "x": {"field": "t", "type": "quantitative", "scale": {"type": "log", "domain": [0.001968, 295.1], "nice": false}, "axis": null},
          "y": {"field": "v", "type": "quantitative", "scale": {"domain": [0.9284, 1.0159], "nice": false, "zero": false}, "axis": null}}}
     ]},
    {"width": 220, "height": 170.5, "data": {"name": "pa0"},
     "layer": [
       {"transform": [{"filter": "datum.s == 'F'"}],
        "mark": {"type": "point", "shape": "triangle-up", "filled": true, "opacity": 1, "size": 115, "fill": "#f03c3c", "stroke": "#5e1010", "strokeWidth": 0.8, "clip": true},
        "encoding": {
          "x": {"field": "t", "type": "quantitative", "scale": {"type": "log", "domain": [0.001968, 295.1], "nice": false}, "axis": null},
          "y": {"field": "v", "type": "quantitative", "scale": {"domain": [0.9284, 1.0159], "nice": false, "zero": false}, "axis": null}}}
     ]},
    {"width": 36, "height": 170.5, "view": {"fill": "#c8c8c8"}, "data": {"values": [{"n": "0"}]}, "mark": {"type": "text", "angle": 90, "fontSize": 19}, "encoding": {"text": {"field": "n"}}},

    {"width": 220, "height": 170.5, "data": {"name": "eva100"},
     "layer": [
       {"transform": [{"filter": "datum.s != 'F'"}],
        "mark": {"type": "point", "shape": "circle", "filled": true, "opacity": 1, "size": 52, "clip": true},
        "encoding": {
          "x": {"field": "t", "type": "quantitative", "scale": {"type": "log", "domain": [0.001968, 295.1], "nice": false}, "axis": null},
          "y": {"field": "v", "type": "quantitative", "scale": {"domain": [0.9284, 1.0159], "nice": false, "zero": false}, "axis": {"values": [0.94, 0.96, 0.98, 1], "format": ".2~f", "tickSize": 7, "tickWidth": 2, "labelPadding": 3, "title": null}},
          "color": {"field": "s", "type": "nominal", "scale": {"domain": ["1", "2", "3"], "range": ["#5b9bd5", "#6abe00", "#505050"]}, "legend": null}}},
       {"transform": [{"filter": "datum.s == 'F'"}],
        "mark": {"type": "point", "shape": "triangle-up", "filled": true, "opacity": 1, "size": 115, "fill": "#f03c3c", "stroke": "#5e1010", "strokeWidth": 0.8, "clip": true},
        "encoding": {
          "x": {"field": "t", "type": "quantitative", "axis": null},
          "y": {"field": "v", "type": "quantitative", "axis": {"values": [0.94, 0.96, 0.98, 1], "format": ".2~f", "tickSize": 7, "tickWidth": 2, "labelPadding": 3, "title": null}}}},
       {"data": {"values": [{}]}, "mark": {"type": "text", "text": "V", "angle": 270, "align": "left", "baseline": "alphabetic", "fontSize": 34, "dx": -184, "dy": -202}},
       {"data": {"values": [{}]}, "mark": {"type": "text", "text": "OC", "angle": 270, "align": "left", "baseline": "alphabetic", "fontSize": 23, "dx": -161.2, "dy": -194.5}},
       {"data": {"values": [{}]}, "mark": {"type": "text", "text": "(t)/V", "angle": 270, "align": "left", "baseline": "alphabetic", "fontSize": 34, "dx": -126.7, "dy": -202}},
       {"data": {"values": [{}]}, "mark": {"type": "text", "text": "OC", "angle": 270, "align": "left", "baseline": "alphabetic", "fontSize": 23, "dx": -62.5, "dy": -194.5}},
       {"data": {"values": [{}]}, "mark": {"type": "text", "text": "(0)", "angle": 270, "align": "left", "baseline": "alphabetic", "fontSize": 34, "dx": -28, "dy": -202}}
     ]},
    {"width": 220, "height": 170.5, "data": {"name": "pc100"},
     "layer": [
       {"transform": [{"filter": "datum.s != 'F'"}],
        "mark": {"type": "point", "shape": "circle", "filled": true, "opacity": 1, "size": 52, "clip": true},
        "encoding": {
          "x": {"field": "t", "type": "quantitative", "scale": {"type": "log", "domain": [0.001968, 295.1], "nice": false}, "axis": null},
          "y": {"field": "v", "type": "quantitative", "scale": {"domain": [0.9284, 1.0159], "nice": false, "zero": false}, "axis": null},
          "color": {"field": "s", "type": "nominal", "scale": {"domain": ["1", "2", "3"], "range": ["#5b9bd5", "#6abe00", "#505050"]}, "legend": null}}},
       {"transform": [{"filter": "datum.s == 'F'"}],
        "mark": {"type": "point", "shape": "triangle-up", "filled": true, "opacity": 1, "size": 115, "fill": "#f03c3c", "stroke": "#5e1010", "strokeWidth": 0.8, "clip": true},
        "encoding": {"x": {"field": "t", "type": "quantitative", "axis": null}, "y": {"field": "v", "type": "quantitative", "axis": null}}}
     ]},
    {"width": 220, "height": 170.5, "data": {"name": "pb100"},
     "layer": [
       {"transform": [{"filter": "datum.s != 'F'"}],
        "mark": {"type": "point", "shape": "circle", "filled": true, "opacity": 1, "size": 52, "clip": true},
        "encoding": {
          "x": {"field": "t", "type": "quantitative", "scale": {"type": "log", "domain": [0.001968, 295.1], "nice": false}, "axis": null},
          "y": {"field": "v", "type": "quantitative", "scale": {"domain": [0.9284, 1.0159], "nice": false, "zero": false}, "axis": null},
          "color": {"field": "s", "type": "nominal", "scale": {"domain": ["1", "2", "3"], "range": ["#5b9bd5", "#6abe00", "#505050"]}, "legend": null}}},
       {"transform": [{"filter": "datum.s == 'F'"}],
        "mark": {"type": "point", "shape": "triangle-up", "filled": true, "opacity": 1, "size": 115, "fill": "#f03c3c", "stroke": "#5e1010", "strokeWidth": 0.8, "clip": true},
        "encoding": {"x": {"field": "t", "type": "quantitative", "axis": null}, "y": {"field": "v", "type": "quantitative", "axis": null}}}
     ]},
    {"width": 220, "height": 170.5, "data": {"name": "pa100"},
     "layer": [
       {"transform": [{"filter": "datum.s != 'F'"}],
        "mark": {"type": "point", "shape": "circle", "filled": true, "opacity": 1, "size": 52, "clip": true},
        "encoding": {
          "x": {"field": "t", "type": "quantitative", "scale": {"type": "log", "domain": [0.001968, 295.1], "nice": false}, "axis": null},
          "y": {"field": "v", "type": "quantitative", "scale": {"domain": [0.9284, 1.0159], "nice": false, "zero": false}, "axis": null},
          "color": {"field": "s", "type": "nominal", "scale": {"domain": ["1", "2", "3"], "range": ["#5b9bd5", "#6abe00", "#505050"]}, "legend": null}}},
       {"transform": [{"filter": "datum.s == 'F'"}],
        "mark": {"type": "point", "shape": "triangle-up", "filled": true, "opacity": 1, "size": 115, "fill": "#f03c3c", "stroke": "#5e1010", "strokeWidth": 0.8, "clip": true},
        "encoding": {"x": {"field": "t", "type": "quantitative", "axis": null}, "y": {"field": "v", "type": "quantitative", "axis": null}}}
     ]},
    {"width": 36, "height": 170.5, "view": {"fill": "#c8c8c8"},
     "layer": [
       {"data": {"values": [{"n": "100"}]}, "mark": {"type": "text", "angle": 90, "fontSize": 19}, "encoding": {"text": {"field": "n"}}},
       {"data": {"values": [{}]}, "mark": {"type": "text", "text": "Irradiance (W/m²)", "angle": 90, "fontSize": 34, "baseline": "middle", "dx": 85, "dy": -47}}
     ]},

    {"width": 220, "height": 170.5, "data": {"name": "eva300"},
     "layer": [
       {"transform": [{"filter": "datum.s != 'F'"}],
        "mark": {"type": "point", "shape": "circle", "filled": true, "opacity": 1, "size": 52, "clip": true},
        "encoding": {
          "x": {"field": "t", "type": "quantitative", "scale": {"type": "log", "domain": [0.001968, 295.1], "nice": false}, "axis": null},
          "y": {"field": "v", "type": "quantitative", "scale": {"domain": [0.9284, 1.0159], "nice": false, "zero": false}, "axis": {"values": [0.94, 0.96, 0.98, 1], "format": ".2~f", "tickSize": 7, "tickWidth": 2, "labelPadding": 3, "title": null}},
          "color": {"field": "s", "type": "nominal", "scale": {"domain": ["1", "2", "3"], "range": ["#5b9bd5", "#6abe00", "#505050"]}, "legend": null}}},
       {"transform": [{"filter": "datum.s == 'F'"}],
        "mark": {"type": "point", "shape": "triangle-up", "filled": true, "opacity": 1, "size": 115, "fill": "#f03c3c", "stroke": "#5e1010", "strokeWidth": 0.8, "clip": true},
        "encoding": {
          "x": {"field": "t", "type": "quantitative", "axis": null},
          "y": {"field": "v", "type": "quantitative", "axis": {"values": [0.94, 0.96, 0.98, 1], "format": ".2~f", "tickSize": 7, "tickWidth": 2, "labelPadding": 3, "title": null}}}}
     ]},
    {"width": 220, "height": 170.5, "data": {"name": "pc300"},
     "layer": [
       {"transform": [{"filter": "datum.s != 'F'"}],
        "mark": {"type": "point", "shape": "circle", "filled": true, "opacity": 1, "size": 52, "clip": true},
        "encoding": {
          "x": {"field": "t", "type": "quantitative", "scale": {"type": "log", "domain": [0.001968, 295.1], "nice": false}, "axis": null},
          "y": {"field": "v", "type": "quantitative", "scale": {"domain": [0.9284, 1.0159], "nice": false, "zero": false}, "axis": null},
          "color": {"field": "s", "type": "nominal", "scale": {"domain": ["1", "2", "3"], "range": ["#5b9bd5", "#6abe00", "#505050"]}, "legend": null}}},
       {"transform": [{"filter": "datum.s == 'F'"}],
        "mark": {"type": "point", "shape": "triangle-up", "filled": true, "opacity": 1, "size": 115, "fill": "#f03c3c", "stroke": "#5e1010", "strokeWidth": 0.8, "clip": true},
        "encoding": {"x": {"field": "t", "type": "quantitative", "axis": null}, "y": {"field": "v", "type": "quantitative", "axis": null}}}
     ]},
    {"width": 220, "height": 170.5, "data": {"name": "pb300"},
     "layer": [
       {"transform": [{"filter": "datum.s != 'F'"}],
        "mark": {"type": "point", "shape": "circle", "filled": true, "opacity": 1, "size": 52, "clip": true},
        "encoding": {
          "x": {"field": "t", "type": "quantitative", "scale": {"type": "log", "domain": [0.001968, 295.1], "nice": false}, "axis": null},
          "y": {"field": "v", "type": "quantitative", "scale": {"domain": [0.9284, 1.0159], "nice": false, "zero": false}, "axis": null},
          "color": {"field": "s", "type": "nominal", "scale": {"domain": ["1", "2", "3"], "range": ["#5b9bd5", "#6abe00", "#505050"]}, "legend": null}}},
       {"transform": [{"filter": "datum.s == 'F'"}],
        "mark": {"type": "point", "shape": "triangle-up", "filled": true, "opacity": 1, "size": 115, "fill": "#f03c3c", "stroke": "#5e1010", "strokeWidth": 0.8, "clip": true},
        "encoding": {"x": {"field": "t", "type": "quantitative", "axis": null}, "y": {"field": "v", "type": "quantitative", "axis": null}}}
     ]},
    {"width": 220, "height": 170.5, "data": {"name": "pa300"},
     "layer": [
       {"transform": [{"filter": "datum.s != 'F'"}],
        "mark": {"type": "point", "shape": "circle", "filled": true, "opacity": 1, "size": 52, "clip": true},
        "encoding": {
          "x": {"field": "t", "type": "quantitative", "scale": {"type": "log", "domain": [0.001968, 295.1], "nice": false}, "axis": null},
          "y": {"field": "v", "type": "quantitative", "scale": {"domain": [0.9284, 1.0159], "nice": false, "zero": false}, "axis": null},
          "color": {"field": "s", "type": "nominal", "scale": {"domain": ["1", "2", "3"], "range": ["#5b9bd5", "#6abe00", "#505050"]}, "legend": null}}},
       {"transform": [{"filter": "datum.s == 'F'"}],
        "mark": {"type": "point", "shape": "triangle-up", "filled": true, "opacity": 1, "size": 115, "fill": "#f03c3c", "stroke": "#5e1010", "strokeWidth": 0.8, "clip": true},
        "encoding": {"x": {"field": "t", "type": "quantitative", "axis": null}, "y": {"field": "v", "type": "quantitative", "axis": null}}}
     ]},
    {"width": 36, "height": 170.5, "view": {"fill": "#c8c8c8"}, "data": {"values": [{"n": "300"}]}, "mark": {"type": "text", "angle": 90, "fontSize": 19}, "encoding": {"text": {"field": "n"}}},

    {"width": 220, "height": 170.5, "data": {"name": "eva1000"},
     "layer": [
       {"transform": [{"filter": "datum.s != 'F'"}],
        "mark": {"type": "point", "shape": "circle", "filled": true, "opacity": 1, "size": 52, "clip": true},
        "encoding": {
          "x": {"field": "t", "type": "quantitative", "scale": {"type": "log", "domain": [0.001968, 295.1], "nice": false},
                "axis": {"values": [0.002,0.003,0.004,0.005,0.006,0.007,0.008,0.009,0.01,0.02,0.03,0.04,0.05,0.06,0.07,0.08,0.09,0.1,0.2,0.3,0.4,0.5,0.6,0.7,0.8,0.9,1,2,3,4,5,6,7,8,9,10,20,30,40,50,60,70,80,90,100,200],
                         "labelExpr": "datum.value == 0.01 ? '10⁻²' : datum.value == 0.1 ? '10⁻¹' : datum.value == 1 ? '10⁰' : datum.value == 10 ? '10¹' : datum.value == 100 ? '10²' : ''",
                         "tickSize": {"condition": {"test": "abs(log(datum.value)/LN10 - round(log(datum.value)/LN10)) < 0.001", "value": 8}, "value": 4},
                         "tickWidth": 2, "labelPadding": 11, "labelOverlap": false, "labelFlush": false, "labelBound": false, "title": null}},
          "y": {"field": "v", "type": "quantitative", "scale": {"domain": [0.9284, 1.0159], "nice": false, "zero": false}, "axis": {"values": [0.94, 0.96, 0.98, 1], "format": ".2~f", "tickSize": 7, "tickWidth": 2, "labelPadding": 3, "title": null}},
          "color": {"field": "s", "type": "nominal", "scale": {"domain": ["1", "2", "3"], "range": ["#5b9bd5", "#6abe00", "#505050"]}, "legend": null}}},
       {"transform": [{"filter": "datum.s == 'F'"}],
        "mark": {"type": "point", "shape": "triangle-up", "filled": true, "opacity": 1, "size": 115, "fill": "#f03c3c", "stroke": "#5e1010", "strokeWidth": 0.8, "clip": true},
        "encoding": {"x": {"field": "t", "type": "quantitative"}, "y": {"field": "v", "type": "quantitative"}}}
     ]},
    {"width": 220, "height": 170.5, "view": {"fill": "#c8c8c8"},
     "data": {"values": [{"t": 1, "v": 0.97}]},
     "mark": {"type": "point", "opacity": 0},
     "encoding": {
       "x": {"field": "t", "type": "quantitative", "scale": {"type": "log", "domain": [0.001968, 295.1], "nice": false},
             "axis": {"values": [0.002,0.003,0.004,0.005,0.006,0.007,0.008,0.009,0.01,0.02,0.03,0.04,0.05,0.06,0.07,0.08,0.09,0.1,0.2,0.3,0.4,0.5,0.6,0.7,0.8,0.9,1,2,3,4,5,6,7,8,9,10,20,30,40,50,60,70,80,90,100,200],
                      "labelExpr": "datum.value == 0.01 ? '10⁻²' : datum.value == 0.1 ? '10⁻¹' : datum.value == 1 ? '10⁰' : datum.value == 10 ? '10¹' : datum.value == 100 ? '10²' : ''",
                      "tickSize": {"condition": {"test": "abs(log(datum.value)/LN10 - round(log(datum.value)/LN10)) < 0.001", "value": 8}, "value": 4},
                      "tickWidth": 2, "labelPadding": 11, "labelOverlap": false, "labelFlush": false, "labelBound": false,
                      "title": "Duration of voltage stress (h)", "titleFontSize": 28, "titleX": 220, "titleAlign": "center", "titlePadding": 25}},
       "y": {"field": "v", "type": "quantitative", "scale": {"domain": [0.9284, 1.0159], "nice": false, "zero": false}, "axis": null}}},
    {"width": 220, "height": 170.5, "view": {"fill": "#c8c8c8"},
     "data": {"values": [{"t": 1, "v": 0.97}]},
     "mark": {"type": "point", "opacity": 0},
     "encoding": {
       "x": {"field": "t", "type": "quantitative", "scale": {"type": "log", "domain": [0.001968, 295.1], "nice": false},
             "axis": {"values": [0.002,0.003,0.004,0.005,0.006,0.007,0.008,0.009,0.01,0.02,0.03,0.04,0.05,0.06,0.07,0.08,0.09,0.1,0.2,0.3,0.4,0.5,0.6,0.7,0.8,0.9,1,2,3,4,5,6,7,8,9,10,20,30,40,50,60,70,80,90,100,200],
                      "labelExpr": "datum.value == 0.01 ? '10⁻²' : datum.value == 0.1 ? '10⁻¹' : datum.value == 1 ? '10⁰' : datum.value == 10 ? '10¹' : datum.value == 100 ? '10²' : ''",
                      "tickSize": {"condition": {"test": "abs(log(datum.value)/LN10 - round(log(datum.value)/LN10)) < 0.001", "value": 8}, "value": 4},
                      "tickWidth": 2, "labelPadding": 11, "labelOverlap": false, "labelFlush": false, "labelBound": false, "title": null}},
       "y": {"field": "v", "type": "quantitative", "scale": {"domain": [0.9284, 1.0159], "nice": false, "zero": false}, "axis": null}}},
    {"width": 220, "height": 170.5, "view": {"fill": "#c8c8c8"},
     "layer": [
       {"data": {"values": [{"t": 1, "v": 0.97}]},
        "mark": {"type": "point", "opacity": 0},
        "encoding": {
          "x": {"field": "t", "type": "quantitative", "scale": {"type": "log", "domain": [0.001968, 295.1], "nice": false},
                "axis": {"values": [0.002,0.003,0.004,0.005,0.006,0.007,0.008,0.009,0.01,0.02,0.03,0.04,0.05,0.06,0.07,0.08,0.09,0.1,0.2,0.3,0.4,0.5,0.6,0.7,0.8,0.9,1,2,3,4,5,6,7,8,9,10,20,30,40,50,60,70,80,90,100,200],
                         "labelExpr": "datum.value == 0.01 ? '10⁻²' : datum.value == 0.1 ? '10⁻¹' : datum.value == 1 ? '10⁰' : datum.value == 10 ? '10¹' : datum.value == 100 ? '10²' : ''",
                         "tickSize": {"condition": {"test": "abs(log(datum.value)/LN10 - round(log(datum.value)/LN10)) < 0.001", "value": 8}, "value": 4},
                         "tickWidth": 2, "labelPadding": 11, "labelOverlap": false, "labelFlush": false, "labelBound": false, "title": null}},
          "y": {"field": "v", "type": "quantitative", "scale": {"domain": [0.9284, 1.0159], "nice": false, "zero": false}, "axis": null}}},
       {"data": {"values": [{}]}, "mark": {"type": "rect", "fill": "white"},
        "encoding": {"x": {"datum": 0.0169, "type": "quantitative"}, "x2": {"datum": 0.0621}, "y": {"datum": 1.005, "type": "quantitative"}, "y2": {"datum": 0.9414}}},
       {"data": {"values": [{}]}, "mark": {"type": "point", "shape": "triangle-up", "filled": true, "opacity": 1, "size": 100, "fill": "#f03c3c", "stroke": "#5e1010", "strokeWidth": 0.8},
        "encoding": {"x": {"datum": 0.033, "type": "quantitative"}, "y": {"datum": 0.997, "type": "quantitative"}}},
       {"data": {"values": [{}]}, "mark": {"type": "point", "shape": "circle", "filled": true, "opacity": 1, "size": 52, "color": "#5b9bd5"},
        "encoding": {"x": {"datum": 0.033, "type": "quantitative"}, "y": {"datum": 0.9813, "type": "quantitative"}}},
       {"data": {"values": [{}]}, "mark": {"type": "point", "shape": "circle", "filled": true, "opacity": 1, "size": 52, "color": "#6abe00"},
        "encoding": {"x": {"datum": 0.033, "type": "quantitative"}, "y": {"datum": 0.9657, "type": "quantitative"}}},
       {"data": {"values": [{}]}, "mark": {"type": "point", "shape": "circle", "filled": true, "opacity": 1, "size": 52, "color": "#505050"},
        "encoding": {"x": {"datum": 0.033, "type": "quantitative"}, "y": {"datum": 0.95, "type": "quantitative"}}},
       {"data": {"values": [{}]}, "mark": {"type": "text", "text": "Flash", "align": "left", "baseline": "middle", "fontSize": 24},
        "encoding": {"x": {"datum": 0.219, "type": "quantitative"}, "y": {"datum": 0.997, "type": "quantitative"}}},
       {"data": {"values": [{}]}, "mark": {"type": "text", "text": "In situ", "align": "left", "baseline": "middle", "fontSize": 24},
        "encoding": {"x": {"datum": 0.219, "type": "quantitative"}, "y": {"datum": 0.9654, "type": "quantitative"}}},
       {"data": {"values": [{}]}, "mark": {"type": "text", "text": "}", "align": "center", "baseline": "middle", "fontSize": 72},
        "encoding": {"x": {"datum": 0.114, "type": "quantitative"}, "y": {"datum": 0.9658, "type": "quantitative"}}}
     ]},
    {"width": 36, "height": 170.5, "view": {"fill": "#c8c8c8"}, "data": {"values": [{"n": "1000"}]}, "mark": {"type": "text", "angle": 90, "fontSize": 19}, "encoding": {"text": {"field": "n"}}}
  ]
}
